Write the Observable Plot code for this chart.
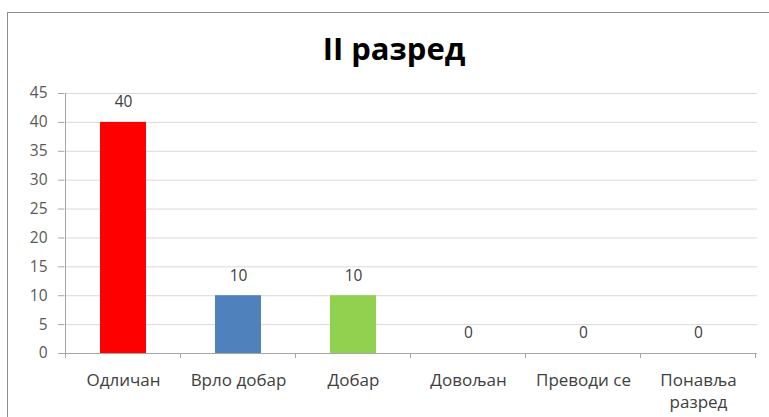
<!DOCTYPE html>
<html><head><meta charset="utf-8">
<script src="https://cdn.jsdelivr.net/npm/d3@7"></script>
<script src="https://cdn.jsdelivr.net/npm/@observablehq/plot@0.6"></script>
<style>
html,body{margin:0;padding:0;width:769px;height:417px;overflow:hidden;background:#fff;font-family:"Open Sans",sans-serif;}
#frame{position:absolute;left:7px;top:12px;width:800px;height:500px;border:1.5px solid #8c8c8c;box-sizing:border-box;}
#title{position:absolute;left:0;top:28px;width:788px;text-align:center;font-weight:bold;font-size:31px;line-height:40px;color:#000;}
#chart{position:absolute;left:0;top:80px;}
</style></head><body>
<div id="frame"></div>
<div id="title">II разред</div>
<div id="chart"></div>
<script>
const categories = ["Одличан", "Врло добар", "Добар", "Довољан", "Преводи се", "Понавља\nразред"];
const values = [40, 10, 10, 0, 0, 0];
const colors = ["#FF0000", "#4F81BD", "#92D050", "#92D050", "#92D050", "#92D050"];
const yTicks = [0, 5, 10, 15, 20, 25, 30, 35, 40, 45];

const rows = categories.map((c, i) => ({category: c, value: values[i], color: colors[i]}));

const chart = Plot.plot({
  width: 769, height: 337,
  marginLeft: 64, marginRight: 12, marginTop: 13, marginBottom: 64,
  style: {fontFamily: "'Open Sans', sans-serif", color: "#595959", background: "transparent", overflow: "visible"},
  x: {domain: categories, paddingInner: 0.6, paddingOuter: 0.3},
  y: {domain: [0, 45], ticks: yTicks},
  color: {type: "identity"},
  marks: [
    Plot.ruleY(yTicks.filter(d => d > 0), {stroke: "#d9d9d9", strokeWidth: 1}),
    Plot.barY(rows, {x: "category", y: "value", fill: "color"}),
    Plot.ruleY([0], {stroke: "#a6a6a6"}),
    Plot.text(rows, {x: "category", y: "value", text: d => String(d.value), dy: -20, fontSize: 15.5, fill: "#404040"}),
    Plot.axisY({ticks: yTicks, tickSize: 6, tickPadding: 11, fontSize: 15.5, stroke: "#a6a6a6", label: null}),
    Plot.axisX({tickSize: 0, tickPadding: 17, fontSize: 17, lineHeight: 1.3, label: null, fill: "#404040"})
  ]
});
document.getElementById("chart").appendChild(chart);

// axis line and category boundary ticks, derived from Plot's scales
const xs = chart.scale("x"), ys = chart.scale("y");
const svg = d3.select(chart);
const y0 = ys.apply(0), yTop = ys.apply(45);
const x0 = xs.apply(categories[0]) - xs.step * 0.3;
svg.append("line").attr("x1", x0).attr("x2", x0).attr("y1", yTop).attr("y2", y0).attr("stroke", "#a6a6a6");
for (let i = 0; i <= categories.length; i++) {
  const bx = x0 + i * xs.step;
  svg.append("line").attr("x1", bx).attr("x2", bx).attr("y1", y0).attr("y2", y0 + 5).attr("stroke", "#a6a6a6");
}
</script>
</body></html>
